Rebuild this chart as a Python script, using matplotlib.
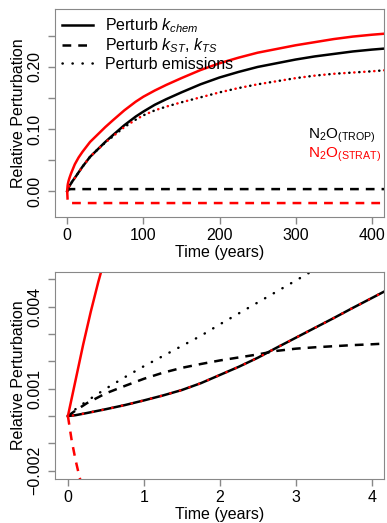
import numpy as np
import matplotlib
matplotlib.use("Agg")
import matplotlib.pyplot as plt
from matplotlib.ticker import FixedLocator, FixedFormatter

plt.rcParams['font.family'] = ['Liberation Sans', 'DejaVu Sans']
plt.rcParams['mathtext.fontset'] = 'custom'
plt.rcParams['mathtext.rm'] = 'Liberation Sans'
plt.rcParams['mathtext.it'] = 'Liberation Sans:italic'
plt.rcParams['mathtext.bf'] = 'Liberation Sans:bold'

# ---- top panel: long run (years) ----
t_long = [0, 0.5, 1, 2, 3, 5, 7, 10, 15, 20, 25, 30, 40, 50, 60, 75, 90, 100, 115, 130,
          150, 175, 200, 225, 250, 275, 300, 325, 350, 375, 400, 420]
trop_kchem = [0, 0.0015, 0.003, 0.006, 0.008, 0.012, 0.016, 0.021, 0.030, 0.039, 0.047,
              0.055, 0.067, 0.079, 0.090, 0.106, 0.120, 0.128, 0.139, 0.148,
              0.159, 0.172, 0.183, 0.192, 0.200, 0.206, 0.212, 0.217, 0.221, 0.225, 0.228, 0.230]
strat_kchem = [0, 0.008, 0.012, 0.017, 0.021, 0.028, 0.034, 0.043, 0.054, 0.063, 0.071,
               0.079, 0.091, 0.103, 0.114, 0.130, 0.144, 0.152, 0.162, 0.171,
               0.182, 0.195, 0.206, 0.215, 0.223, 0.229, 0.235, 0.240, 0.245, 0.249, 0.252, 0.254]
trop_emis = [0, 0.0015, 0.003, 0.006, 0.008, 0.012, 0.016, 0.021, 0.030, 0.039, 0.047,
             0.055, 0.067, 0.078, 0.088, 0.103, 0.115, 0.122, 0.130, 0.136,
             0.143, 0.151, 0.159, 0.166, 0.172, 0.177, 0.182, 0.186, 0.189, 0.191, 0.193, 0.195]
strat_emis = trop_emis
trop_kst = [0, 0.001, 0.0015, 0.0022, 0.0026, 0.003, 0.003, 0.003, 0.003, 0.003, 0.003,
            0.003, 0.003, 0.003, 0.003, 0.003, 0.003, 0.003, 0.003, 0.003,
            0.003, 0.003, 0.003, 0.003, 0.003, 0.003, 0.003, 0.003, 0.003, 0.003, 0.003, 0.003]
strat_kst = [0, -0.013, -0.018, -0.0195, -0.0195, -0.0195, -0.0195, -0.0195, -0.0195,
             -0.0195, -0.0195, -0.0195, -0.0195, -0.0195, -0.0195, -0.0195, -0.0195,
             -0.0195, -0.0195, -0.0195, -0.0195, -0.0195, -0.0195, -0.0195, -0.0195,
             -0.0195, -0.0195, -0.0195, -0.0195, -0.0195, -0.0195, -0.0195]

# ---- bottom panel: first years ----
t_short = [0, 0.1, 0.25, 0.5, 0.75, 1, 1.25, 1.5, 1.75, 2, 2.25, 2.5, 2.75, 3, 3.25,
           3.5, 3.75, 4, 4.2]
trop_kchem_s = [0, 0.00003, 0.00011, 0.00025, 0.0004, 0.00057, 0.00075, 0.00095, 0.0012,
                0.0015, 0.0018, 0.00213, 0.0025, 0.00286, 0.00322, 0.00358, 0.00395,
                0.00431, 0.0046]
strat_emis_s = trop_kchem_s
trop_emis_s = [0, 0.00025, 0.00055, 0.001, 0.00142, 0.00182, 0.00219, 0.00256, 0.00293,
               0.00335, 0.00375, 0.00415, 0.00455, 0.00495, 0.00535, 0.00575, 0.0061,
               0.0065, 0.0068]
trop_kst_s = [0, 0.0002, 0.00047, 0.00083, 0.0011, 0.00136, 0.00158, 0.00176, 0.0019,
              0.00203, 0.00214, 0.00225, 0.00238, 0.00246, 0.00251, 0.00255, 0.00259,
              0.00262, 0.00265]
t_strat_k = [0, 0.1, 0.2, 0.3, 0.4, 0.5, 0.6]
strat_kchem_s = [0, 0.0013, 0.0026, 0.0038, 0.0049, 0.0059, 0.0069]
t_strat_st = [0, 0.05, 0.1, 0.15, 0.2, 0.25]
strat_kst_s = [0, -0.0009, -0.0016, -0.0022, -0.0027, -0.0032]

lw = 1.8
dash = (0, (3.5, 2.8))
dot = (0, (0.1, 3.9))
dot_shift = (2.0, (0.1, 3.9))
edge = '#888888'

fig = plt.figure(figsize=(3.87, 5.23), dpi=100)
ax1 = fig.add_axes([55/387, 1-217/523, 329/387, 208/523])
ax2 = fig.add_axes([55/387, 1-479/523, 329/387, 207/523])


def style(ax):
    for s in ax.spines.values():
        s.set_color(edge)
    ax.tick_params(axis='both', color=edge, length=5, width=1, labelsize=11.5, pad=3)
    ax.tick_params(axis='y', labelrotation=90, pad=4)
    for lab in ax.get_yticklabels():
        lab.set_va('center')
    ax.set_xlabel('Time (years)', fontsize=11.5, labelpad=1)
    ax.set_ylabel('Relative Perturbation', fontsize=11.5, labelpad=1)


# top
ax1.plot(t_long, trop_kchem, color='black', lw=lw, label=r'Perturb $k_{chem}$')
ax1.plot(t_long, trop_kst, color='black', lw=lw, linestyle=dash, label=r'Perturb $k_{ST}$, $k_{TS}$')
ax1.plot(t_long, trop_emis, color='black', lw=lw, linestyle=dot, dash_capstyle='round',
         label='Perturb emissions')
ax1.plot(t_long, strat_kchem, color='red', lw=lw)
ax1.plot(t_long, strat_kst, color='red', lw=lw, linestyle=dash)
ax1.plot(t_long, strat_emis, color='red', lw=lw, linestyle=dot_shift, dash_capstyle='round')
ax1.set_xlim(-16, 416)
ax1.set_ylim(-0.042, 0.2935)
yt = [-0.05, 0, 0.05, 0.10, 0.15, 0.20, 0.25]
ax1.yaxis.set_major_locator(FixedLocator(yt))
ax1.yaxis.set_major_formatter(FixedFormatter(['', '0.00', '', '0.10', '', '0.20', '']))
ax1.set_xticks([0, 100, 200, 300, 400])
style(ax1)
leg = ax1.legend(loc='upper left', frameon=False, fontsize=11.5, handlelength=1.9,
                 handletextpad=0.75, labelspacing=0.1, borderaxespad=0.35, borderpad=0.1)
ax1.text(0.769, 0.376, r'$\mathrm{N_2O_{(TROP)}}$', transform=ax1.transAxes,
         color='black', fontsize=11, ha='left', va='baseline')
ax1.text(0.769, 0.287, r'$\mathrm{N_2O_{(STRAT)}}$', transform=ax1.transAxes,
         color='red', fontsize=11, ha='left', va='baseline')

# bottom
ax2.plot(t_short, trop_kchem_s, color='black', lw=lw)
ax2.plot(t_short, trop_kst_s, color='black', lw=lw, linestyle=dash)
ax2.plot(t_short, trop_emis_s, color='black', lw=lw, linestyle=dot, dash_capstyle='round')
ax2.plot(t_strat_k, strat_kchem_s, color='red', lw=lw)
ax2.plot(t_strat_st, strat_kst_s, color='red', lw=lw, linestyle=dash)
ax2.plot(t_short, strat_emis_s, color='red', lw=lw, linestyle=dot_shift, dash_capstyle='round')
ax2.set_xlim(-0.17, 4.16)
ax2.set_ylim(-0.0023, 0.00526)
yt2 = [-0.002, -0.001, 0, 0.001, 0.002, 0.003, 0.004, 0.005]
ax2.yaxis.set_major_locator(FixedLocator(yt2))
ax2.yaxis.set_major_formatter(FixedFormatter(['\u22120.002', '', '', '0.001', '', '', '0.004', '']))
ax2.set_xticks([0, 1, 2, 3, 4])
style(ax2)

fig.savefig('out.png', dpi=100)
